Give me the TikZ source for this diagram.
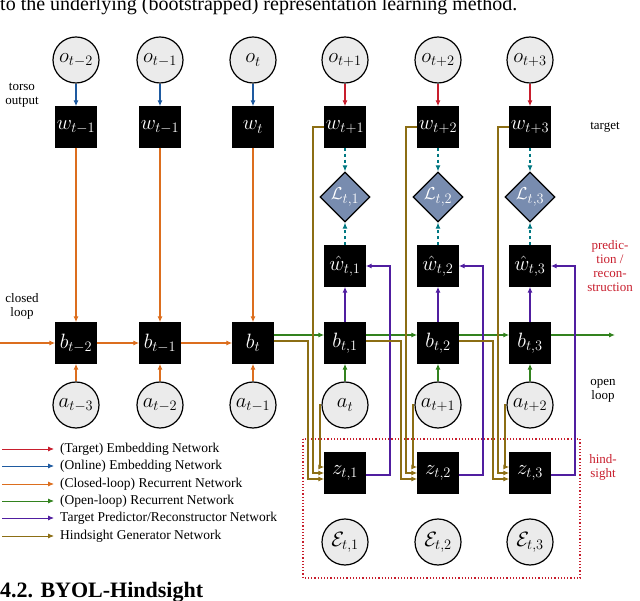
\documentclass[tikz,border=0pt]{standalone}
\usepackage{fontspec}
\setmainfont{Liberation Serif}
\usepackage{amsmath,amssymb}
\usetikzlibrary{shapes.geometric,arrows.meta}
\definecolor{cred}{RGB}{200,30,45}
\definecolor{cblue}{RGB}{30,90,160}
\definecolor{corange}{RGB}{220,110,30}
\definecolor{cgreen}{RGB}{50,130,30}
\definecolor{cpurple}{RGB}{80,30,160}
\definecolor{colive}{RGB}{140,110,20}
\definecolor{cteal}{RGB}{0,120,130}
\definecolor{cdia}{RGB}{120,140,175}
\begin{document}
\begin{tikzpicture}[x=1pt,y=-1pt,
  box/.style={draw=black,fill=black,text=white,minimum size=41pt,inner sep=0pt,font=\fontsize{22}{22}\selectfont},
  obs/.style={circle,draw=black,line width=1.2pt,fill=black!8,minimum size=46pt,inner sep=0pt,font=\fontsize{22}{22}\selectfont},
  dia/.style={diamond,draw=black,line width=1.2pt,fill=cdia,text=white,minimum size=50pt,inner sep=0pt,font=\fontsize{19}{19}\selectfont},
  ar/.style={-{Latex[length=6pt,width=5pt]},line width=1.1pt},
  lbl/.style={font=\fontsize{13}{14}\selectfont,align=center},
  leg/.style={font=\fontsize{13.5}{13.5}\selectfont,anchor=west,inner sep=0pt}]
\useasboundingbox (0,0) rectangle (640,601);
\node[anchor=north west,inner sep=0pt,font=\fontsize{20}{20}\selectfont] (top) at (0,-4) {to the underlying (bootstrapped) representation learning method.};
\node[anchor=south west,inner sep=0pt,font=\bfseries\fontsize{22}{22}\selectfont] (sec) at (0,603) {4.2. BYOL-Hindsight};
\def\xa{76}\def\xb{160}\def\xc{253}\def\xd{345}\def\xe{438}\def\xf{530}
\node[obs] (o1) at (\xa,60) {$o_{t-2}$};
\node[obs] (o2) at (\xb,60) {$o_{t-1}$};
\node[obs] (o3) at (\xc,60) {$o_{t}$};
\node[obs] (o4) at (\xd,60) {$o_{t+1}$};
\node[obs] (o5) at (\xe,60) {$o_{t+2}$};
\node[obs] (o6) at (\xf,60) {$o_{t+3}$};
\node[box] (w1) at (\xa,127) {$w_{t-1}$};
\node[box] (w2) at (\xb,127) {$w_{t-1}$};
\node[box] (w3) at (\xc,127) {$w_{t}$};
\node[box] (w4) at (\xd,127) {$w_{t+1}$};
\node[box] (w5) at (\xe,127) {$w_{t+2}$};
\node[box] (w6) at (\xf,127) {$w_{t+3}$};
\node[dia] (L1) at (\xd,197) {$\mathcal{L}_{t,1}$};
\node[dia] (L2) at (\xe,197) {$\mathcal{L}_{t,2}$};
\node[dia] (L3) at (\xf,197) {$\mathcal{L}_{t,3}$};
\node[box] (h1) at (\xd,266) {$\hat w_{t,1}$};
\node[box] (h2) at (\xe,266) {$\hat w_{t,2}$};
\node[box] (h3) at (\xf,266) {$\hat w_{t,3}$};
\node[box] (b1) at (\xa,343) {$b_{t-2}$};
\node[box] (b2) at (\xb,343) {$b_{t-1}$};
\node[box] (b3) at (\xc,343) {$b_{t}$};
\node[box] (b4) at (\xd,343) {$b_{t,1}$};
\node[box] (b5) at (\xe,343) {$b_{t,2}$};
\node[box] (b6) at (\xf,343) {$b_{t,3}$};
\node[obs] (a1) at (\xa,405) {$a_{t-3}$};
\node[obs] (a2) at (\xb,405) {$a_{t-2}$};
\node[obs] (a3) at (\xc,405) {$a_{t-1}$};
\node[obs] (a4) at (\xd,405) {$a_{t}$};
\node[obs] (a5) at (\xe,405) {$a_{t+1}$};
\node[obs] (a6) at (\xf,405) {$a_{t+2}$};
\node[box] (z1) at (\xd,473) {$z_{t,1}$};
\node[box] (z2) at (\xe,473) {$z_{t,2}$};
\node[box] (z3) at (\xf,473) {$z_{t,3}$};
\node[obs] (e1) at (\xd,542) {$\mathcal{E}_{t,1}$};
\node[obs] (e2) at (\xe,542) {$\mathcal{E}_{t,2}$};
\node[obs] (e3) at (\xf,542) {$\mathcal{E}_{t,3}$};
\draw[cred,dotted,line width=1.2pt] (303,439) rectangle (580,578);
\node[lbl] (l1) at (22,95) {torso\\output};
\node[lbl] (l2) at (22,306) {closed\\loop};
\node[lbl] (l3) at (605,127) {target};
\node[lbl,text=cred] (l4) at (610,266) {predic-\\tion /\\recon-\\struction};
\node[lbl] (l5) at (603,391) {open\\loop};
\node[lbl,text=cred] (l6) at (603,467) {hind-\\sight};
\foreach \i in {1,2,3} \draw[ar,cblue] (o\i) -- (w\i);
\foreach \i in {4,5,6} \draw[ar,cred] (o\i) -- (w\i);
\foreach \i in {1,2,3} \draw[ar,corange] (w\i) -- (b\i);
\foreach \i in {1,2,3} \draw[ar,corange] (a\i) -- (b\i);
\foreach \i in {4,5,6} \draw[ar,cgreen] (a\i) -- (b\i);
\coordinate (cl) at (0,343);
\coordinate (ol) at (615,343);
\draw[ar,corange] (cl) -- (b1);
\draw[ar,corange] (b1) -- (b2);
\draw[ar,corange] (b2) -- (b3);
\draw[ar,cgreen] ([yshift=8pt]b3.east) -- ([yshift=8pt]b4.west);
\draw[ar,cgreen] ([yshift=8pt]b4.east) -- ([yshift=8pt]b5.west);
\draw[ar,cgreen] ([yshift=8pt]b5.east) -- ([yshift=8pt]b6.west);
\draw[ar,cgreen] ([yshift=8pt]b6.east) -- ([yshift=8pt]ol);
\foreach \j/\k in {4/1,5/2,6/3}{
  \draw[ar,cteal,dashed] (w\j) -- (L\k);
  \draw[ar,cteal,dashed] (h\k) -- (L\k);
  \draw[ar,cpurple] (b\j) -- (h\k);
}
\foreach \j/\k/\p/\x in {4/1/3/\xd,5/2/4/\xe,6/3/5/\xf}{
  \draw[ar,colive] ([yshift=2pt]b\p.east) -| ([xshift=-37pt]\x,479) -- ([yshift=-6pt]z\k.west);
  \draw[ar,colive] (w\j.west) -| ([xshift=-32pt]\x,473) -- (z\k.west);
  \draw[ar,colive] (a\j.west) -| ([xshift=-25pt]\x,467) -- ([yshift=6pt]z\k.west);
  \draw[ar,cpurple] ([yshift=-2pt]z\k.east) -| ([xshift=45pt]\x,266) -- (h\k.east);
}
\foreach \c/\y/\t/\n in {cred/449/{(Target) Embedding Network}/g1,cblue/466/{(Online) Embedding Network}/g2,corange/484/{(Closed-loop) Recurrent Network}/g3,cgreen/501/{(Open-loop) Recurrent Network}/g4,cpurple/518/{Target Predictor/Reconstructor Network}/g5,colive/536/{Hindsight Generator Network}/g6}{
  \coordinate (\n s) at (2,\y);
  \node[leg] (\n) at (60,\y) {\t};
  \draw[ar,\c,line width=0.8pt] (\n s) -- ([xshift=-6pt]\n.west);
}
\end{tikzpicture}
\end{document}
